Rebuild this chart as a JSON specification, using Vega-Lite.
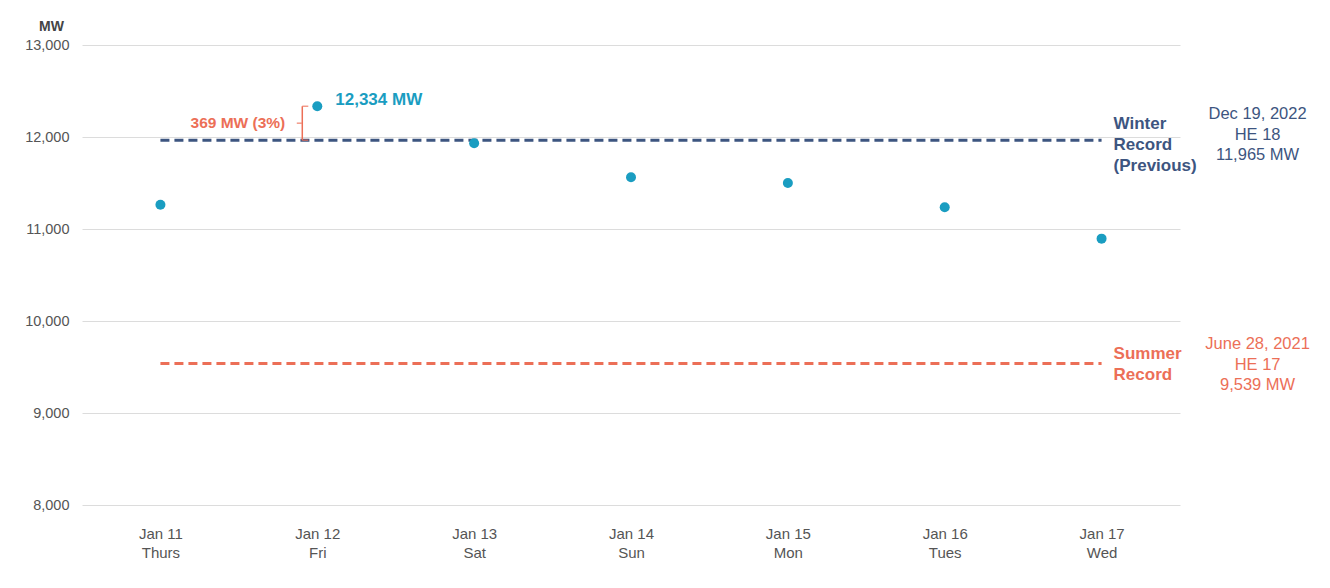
{
  "$schema": "https://vega.github.io/schema/vega-lite/v6.json",
  "width": 1098,
  "height": 460,
  "autosize": {"type": "none"},
  "padding": {"left": 82, "top": 45, "right": 150, "bottom": 83},
  "background": "white",
  "config": {
    "view": {"stroke": null},
    "font": "Liberation Sans"
  },
  "datasets": {
    "points": [
      {"day": "Jan 11|Thurs", "mw": 11264},
      {"day": "Jan 12|Fri", "mw": 12334},
      {"day": "Jan 13|Sat", "mw": 11932},
      {"day": "Jan 14|Sun", "mw": 11562},
      {"day": "Jan 15|Mon", "mw": 11500},
      {"day": "Jan 16|Tues", "mw": 11236},
      {"day": "Jan 17|Wed", "mw": 10895}
    ],
    "records": [
      {"series": "Winter", "mw": 11965, "start": "Jan 11|Thurs", "end": "Jan 17|Wed", "label": "Winter|Record|(Previous)", "info": "Dec 19, 2022|HE 18|11,965 MW"},
      {"series": "Summer", "mw": 9539, "start": "Jan 11|Thurs", "end": "Jan 17|Wed", "label": "Summer|Record", "info": "June 28, 2021|HE 17|9,539 MW"}
    ],
    "bracket": [
      {"day": "Jan 12|Fri", "low": 11965, "high": 12334, "mid": 12150, "label": "369 MW (3%)"}
    ]
  },
  "layer": [
    {
      "data": {"name": "records"},
      "mark": {"type": "rule", "strokeWidth": 3, "strokeDash": [9, 5]},
      "encoding": {
        "x": {
          "field": "start", "type": "ordinal",
          "scale": {"type": "point", "padding": 0.5, "domain": ["Jan 11|Thurs", "Jan 12|Fri", "Jan 13|Sat", "Jan 14|Sun", "Jan 15|Mon", "Jan 16|Tues", "Jan 17|Wed"]},
          "axis": {
            "title": null, "domain": false, "ticks": false, "tickSize": 0,
            "labelExpr": "split(datum.label, '|')",
            "labelFontSize": 15, "labelColor": "#555555", "labelPadding": 21,
            "labelLineHeight": 19, "labelBaseline": "top", "labelAngle": 0
          }
        },
        "x2": {"field": "end"},
        "y": {
          "field": "mw", "type": "quantitative",
          "scale": {"domain": [8000, 13000], "nice": false, "zero": false},
          "axis": {
            "title": "MW", "titleAngle": 0, "titleAlign": "center", "titleBaseline": "bottom",
            "titleX": -31, "titleY": -12, "titleFontSize": 14, "titleFontWeight": "bold", "titleColor": "#444444",
            "values": [8000, 9000, 10000, 11000, 12000, 13000], "format": ",d",
            "domain": false, "ticks": false, "tickSize": 0, "labelPadding": 13,
            "labelFontSize": 14.5, "labelColor": "#555555",
            "grid": true, "gridColor": "#dcdcdc", "gridWidth": 1
          }
        },
        "color": {
          "field": "series", "type": "nominal",
          "scale": {"domain": ["Winter", "Summer"], "range": ["#3d5580", "#ec6f57"]},
          "legend": null
        }
      }
    },
    {
      "data": {"name": "records"},
      "transform": [{"filter": "datum.series == 'Winter'"}, {"calculate": "split(datum.label, '|')", "as": "label"}],
      "mark": {"type": "text", "align": "left", "baseline": "middle", "dx": 12, "dy": -16, "fontSize": 17, "fontWeight": "bold", "lineHeight": 21},
      "encoding": {
        "x": {"field": "end", "type": "ordinal"},
        "y": {"field": "mw", "type": "quantitative"},
        "text": {"field": "label", "type": "nominal"},
        "color": {"field": "series", "type": "nominal", "legend": null}
      }
    },
    {
      "data": {"name": "records"},
      "transform": [{"filter": "datum.series == 'Summer'"}, {"calculate": "split(datum.label, '|')", "as": "label"}],
      "mark": {"type": "text", "align": "left", "baseline": "middle", "dx": 12, "dy": -9, "fontSize": 17, "fontWeight": "bold", "lineHeight": 21},
      "encoding": {
        "x": {"field": "end", "type": "ordinal"},
        "y": {"field": "mw", "type": "quantitative"},
        "text": {"field": "label", "type": "nominal"},
        "color": {"field": "series", "type": "nominal", "legend": null}
      }
    },
    {
      "data": {"name": "records"},
      "transform": [{"filter": "datum.series == 'Winter'"}, {"calculate": "split(datum.info, '|')", "as": "info"}],
      "mark": {"type": "text", "align": "center", "baseline": "middle", "dx": 156, "dy": -26, "fontSize": 16.5, "lineHeight": 20.5},
      "encoding": {
        "x": {"field": "end", "type": "ordinal"},
        "y": {"field": "mw", "type": "quantitative"},
        "text": {"field": "info", "type": "nominal"},
        "color": {"field": "series", "type": "nominal", "legend": null}
      }
    },
    {
      "data": {"name": "records"},
      "transform": [{"filter": "datum.series == 'Summer'"}, {"calculate": "split(datum.info, '|')", "as": "info"}],
      "mark": {"type": "text", "align": "center", "baseline": "middle", "dx": 156, "dy": -19, "fontSize": 16.5, "lineHeight": 20.5},
      "encoding": {
        "x": {"field": "end", "type": "ordinal"},
        "y": {"field": "mw", "type": "quantitative"},
        "text": {"field": "info", "type": "nominal"},
        "color": {"field": "series", "type": "nominal", "legend": null}
      }
    },
    {
      "data": {"name": "points"},
      "mark": {"type": "circle", "size": 100, "opacity": 1, "color": "#1a9dc1"},
      "encoding": {
        "x": {"field": "day", "type": "ordinal"},
        "y": {"field": "mw", "type": "quantitative"}
      }
    },
    {
      "data": {"name": "points"},
      "transform": [{"filter": "datum.mw > 12300"}, {"calculate": "format(datum.mw, ',d') + ' MW'", "as": "label"}],
      "mark": {"type": "text", "align": "left", "baseline": "middle", "dx": 18, "dy": -6, "fontSize": 17, "fontWeight": "bold", "color": "#1a9dc1"},
      "encoding": {
        "x": {"field": "day", "type": "ordinal"},
        "y": {"field": "mw", "type": "quantitative"},
        "text": {"field": "label", "type": "nominal"}
      }
    },
    {
      "data": {"name": "bracket"},
      "mark": {"type": "rule", "color": "#ec6f57", "strokeWidth": 1.5, "xOffset": -15},
      "encoding": {
        "x": {"field": "day", "type": "ordinal"},
        "y": {"field": "low", "type": "quantitative"},
        "y2": {"field": "high"}
      }
    },
    {
      "data": {"name": "bracket"},
      "mark": {"type": "tick", "color": "#ec6f57", "thickness": 1.5, "size": 6, "xOffset": -12, "orient": "horizontal"},
      "encoding": {
        "x": {"field": "day", "type": "ordinal"},
        "y": {"field": "high", "type": "quantitative"}
      }
    },
    {
      "data": {"name": "bracket"},
      "mark": {"type": "tick", "color": "#ec6f57", "thickness": 1.5, "size": 6, "xOffset": -12, "orient": "horizontal"},
      "encoding": {
        "x": {"field": "day", "type": "ordinal"},
        "y": {"field": "low", "type": "quantitative"}
      }
    },
    {
      "data": {"name": "bracket"},
      "mark": {"type": "tick", "color": "#ec6f57", "thickness": 1.5, "size": 5, "xOffset": -18, "orient": "horizontal"},
      "encoding": {
        "x": {"field": "day", "type": "ordinal"},
        "y": {"field": "mid", "type": "quantitative"}
      }
    },
    {
      "data": {"name": "bracket"},
      "mark": {"type": "text", "align": "right", "baseline": "middle", "dx": -32, "fontSize": 15.5, "fontWeight": "bold", "color": "#ec6f57"},
      "encoding": {
        "x": {"field": "day", "type": "ordinal"},
        "y": {"field": "mid", "type": "quantitative"},
        "text": {"field": "label", "type": "nominal"}
      }
    }
  ]
}
